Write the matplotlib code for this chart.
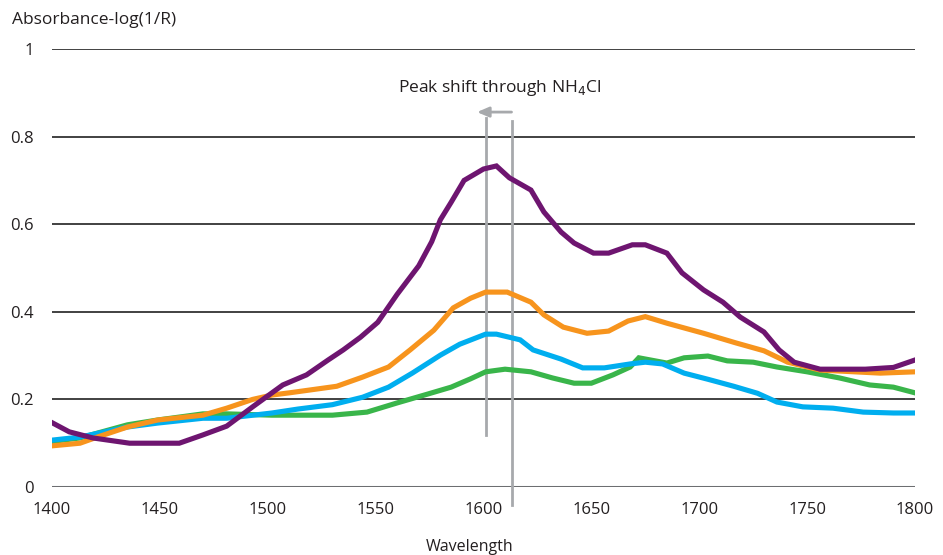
import numpy as np
import matplotlib.pyplot as plt

plt.rcParams['font.family'] = ['Open Sans', 'DejaVu Sans']

# purple series
wl_purple = [1400, 1408, 1419, 1436, 1459, 1470, 1481, 1493, 1507, 1518, 1528, 1535, 1543,
             1551, 1560, 1570, 1576, 1580, 1585, 1591, 1600, 1606, 1612, 1622, 1628, 1636, 1642,
             1651, 1658, 1669, 1675, 1685, 1692, 1702, 1711, 1719, 1730, 1737, 1744, 1756,
             1777, 1790, 1800]
ab_purple = [0.147, 0.126, 0.112, 0.100, 0.100, 0.119, 0.139, 0.183, 0.233, 0.256, 0.290, 0.313, 0.342,
             0.376, 0.440, 0.505, 0.560, 0.610, 0.650, 0.700, 0.726, 0.733, 0.706, 0.678, 0.628, 0.582, 0.557,
             0.534, 0.534, 0.553, 0.553, 0.534, 0.489, 0.450, 0.422, 0.388, 0.354, 0.313, 0.285, 0.269,
             0.269, 0.273, 0.290]

# orange series
wl_orange = [1400, 1413, 1421, 1435, 1449, 1470, 1481, 1493, 1502, 1510, 1532, 1544, 1556,
             1566, 1577, 1586, 1594, 1601, 1611, 1622, 1628, 1637, 1648, 1658, 1667, 1675,
             1685, 1702, 1717, 1730, 1741, 1756, 1784, 1800]
ab_orange = [0.094, 0.100, 0.114, 0.137, 0.153, 0.164, 0.180, 0.200, 0.210, 0.215, 0.230, 0.251, 0.274,
             0.313, 0.358, 0.409, 0.431, 0.445, 0.445, 0.422, 0.393, 0.365, 0.351, 0.356, 0.379, 0.389,
             0.374, 0.351, 0.329, 0.311, 0.285, 0.267, 0.260, 0.263]

# blue series
wl_blue = [1400, 1413, 1435, 1449, 1470, 1481, 1502, 1514, 1530, 1544, 1556, 1567, 1580,
           1589, 1601, 1606, 1617, 1623, 1636, 1646, 1656, 1668, 1675, 1683, 1693, 1704,
           1716, 1727, 1736, 1748, 1762, 1776, 1790, 1800]
ab_blue = [0.107, 0.114, 0.137, 0.146, 0.157, 0.157, 0.169, 0.178, 0.188, 0.205, 0.228, 0.260, 0.301,
           0.326, 0.349, 0.349, 0.336, 0.313, 0.292, 0.272, 0.272, 0.281, 0.285, 0.281, 0.260, 0.246,
           0.230, 0.214, 0.194, 0.183, 0.180, 0.171, 0.169, 0.169]

# green series
wl_green = [1400, 1413, 1421, 1435, 1449, 1470, 1481, 1502, 1530, 1546, 1560, 1574, 1585,
            1594, 1601, 1610, 1622, 1632, 1642, 1650, 1660, 1668, 1672, 1685, 1693, 1704,
            1713, 1725, 1736, 1750, 1765, 1779, 1790, 1800]
ab_green = [0.104, 0.112, 0.123, 0.142, 0.153, 0.167, 0.167, 0.164, 0.164, 0.171, 0.192, 0.212, 0.228,
            0.247, 0.263, 0.269, 0.263, 0.249, 0.237, 0.237, 0.256, 0.274, 0.295, 0.283, 0.295, 0.299,
            0.288, 0.285, 0.274, 0.263, 0.249, 0.233, 0.228, 0.215]

xticks = [1400, 1450, 1500, 1550, 1600, 1650, 1700, 1750, 1800]
yticks = [0, 0.2, 0.4, 0.6, 0.8, 1]
ytick_labels = ['0', '0.2', '0.4', '0.6', '0.8', '1']

fig = plt.figure(figsize=(9.43, 5.55), dpi=100)
ax = fig.add_axes([0.0551, 0.1225, 0.9152, 0.7892])

for y in yticks[1:]:
    ax.axhline(y, color='#333333', lw=1.3, zorder=1)
ax.axhline(0, color='#6d6e71', lw=2.2, zorder=1)

# peak shift markers
ax.plot([1601, 1601], [0.119, 0.842], color='#a7a9ac', lw=2, zorder=2, clip_on=False)
ax.plot([1613, 1613], [-0.041, 0.836], color='#a7a9ac', lw=2, zorder=2, clip_on=False)
ax.annotate('', xy=(1597, 0.856), xytext=(1613, 0.856),
            arrowprops=dict(arrowstyle='-|>,head_length=0.7,head_width=0.3',
                            color='#a7a9ac', lw=2, shrinkA=0, shrinkB=0))
ax.text(1607.5, 0.911, 'Peak shift through NH$_4$Cl', ha='center', va='center',
        fontsize=12.5, color='#231f20')

lw = 3.7
ax.plot(wl_green, ab_green, color='#39b54a', lw=lw, zorder=3, solid_joinstyle='miter')
ax.plot(wl_blue, ab_blue, color='#00aeef', lw=lw, zorder=4, solid_joinstyle='miter')
ax.plot(wl_orange, ab_orange, color='#f7941d', lw=lw, zorder=5, solid_joinstyle='miter')
ax.plot(wl_purple, ab_purple, color='#6e1570', lw=lw, zorder=6, solid_joinstyle='miter')

ax.set_xlim(1400, 1800)
ax.set_ylim(0, 1)
ax.set_xticks(xticks)
ax.set_xticklabels([str(t) for t in xticks])
ax.set_yticks(yticks)
ax.set_yticklabels(ytick_labels)
ax.tick_params(length=0, labelsize=12, colors='#231f20', pad=13)
ax.tick_params(axis='x', pad=11)
for s in ax.spines.values():
    s.set_visible(False)

fig.text(12 / 943, 1 - 20 / 555, 'Absorbance-log(1/R)', ha='left', va='center',
         fontsize=12.5, color='#231f20')
fig.text(470 / 943, 1 - 547 / 555, 'Wavelength', ha='center', va='center',
         fontsize=11.5, color='#231f20')

fig.savefig('out.png', dpi=100)
